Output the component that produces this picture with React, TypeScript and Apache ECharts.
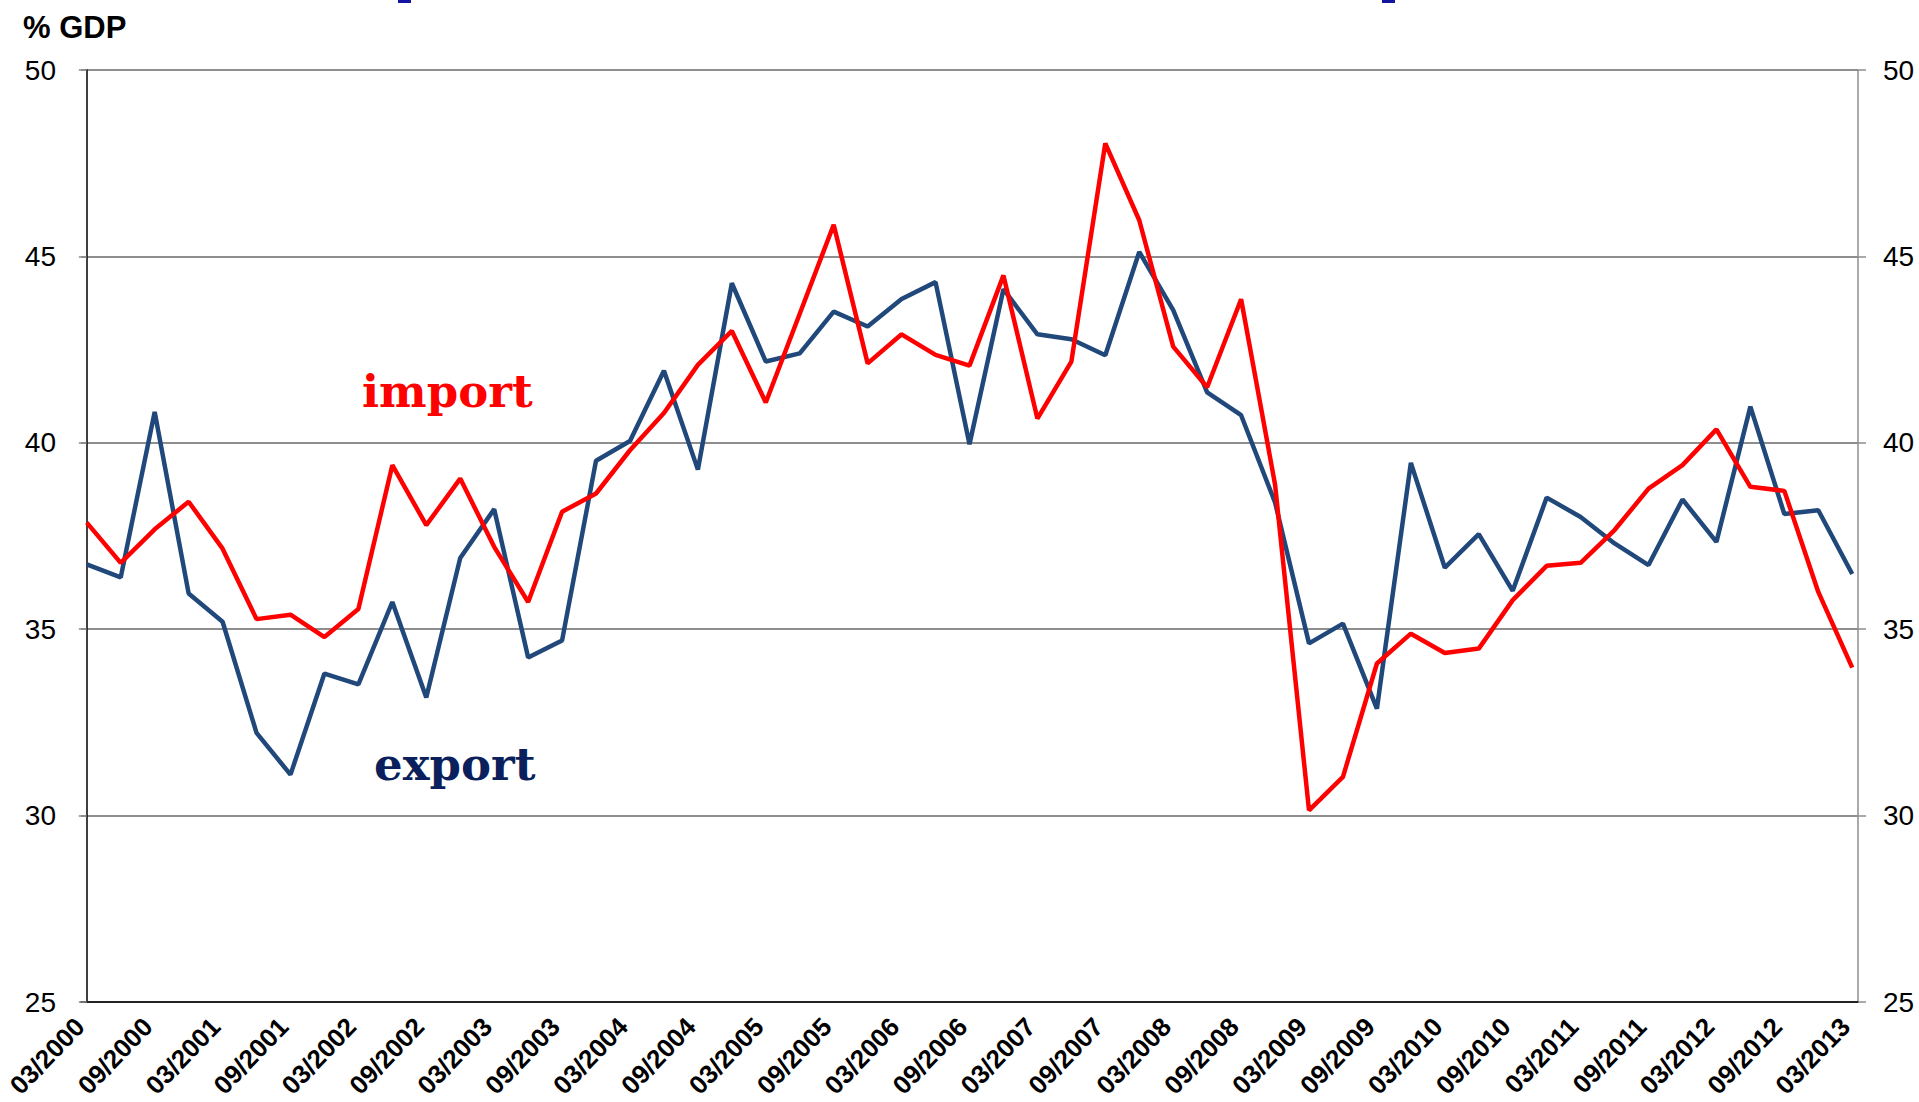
import React, { useEffect, useRef } from "react";
import * as echarts from "echarts";

const tickLabels = [
  "03/2000", "09/2000", "03/2001", "09/2001", "03/2002", "09/2002", "03/2003", "09/2003",
  "03/2004", "09/2004", "03/2005", "09/2005", "03/2006", "09/2006", "03/2007", "09/2007",
  "03/2008", "09/2008", "03/2009", "09/2009", "03/2010", "09/2010", "03/2011", "09/2011",
  "03/2012", "09/2012", "03/2013",
];

// quarterly values, 03/2000 .. 03/2013 (53 quarters)
const exportValues = [
  36.74, 36.39, 40.83, 35.96, 35.2, 32.22, 31.1, 33.81, 33.52, 35.73,
  33.17, 36.91, 38.22, 34.24, 34.7, 39.52, 40.05, 41.93, 39.28, 44.28,
  42.18, 42.4, 43.52, 43.12, 43.86, 44.31, 39.96, 44.12, 42.91, 42.78,
  42.35, 45.12, 43.56, 41.35, 40.74, 38.4, 34.62, 35.15, 32.87, 39.46,
  36.65, 37.55, 36.03, 38.53, 38.01, 37.3, 36.72, 38.48, 37.34, 40.97,
  38.09, 38.19, 36.48,
];

const importValues = [
  37.86, 36.78, 37.68, 38.42, 37.16, 35.27, 35.39, 34.79, 35.54, 39.4,
  37.79, 39.04, 37.21, 35.73, 38.15, 38.64, 39.8, 40.8, 42.09, 43.0,
  41.08, 43.46, 45.85, 42.13, 42.91, 42.36, 42.07, 44.49, 40.65, 42.18,
  48.03, 45.97, 42.58, 41.49, 43.85, 38.88, 30.14, 31.04, 34.08, 34.88,
  34.36, 34.48, 35.78, 36.7, 36.78, 37.66, 38.77, 39.4, 40.36, 38.82,
  38.71, 36.0, 33.97,
];

const yTicks = [25, 30, 35, 40, 45, 50];

export default function App() {
  const ref = useRef<HTMLDivElement>(null);

  useEffect(() => {
    if (!ref.current) return;
    const chart = echarts.init(ref.current, undefined, { renderer: "svg" });
    const sans = "'Liberation Sans', Arial, sans-serif";
    const serif = "'DejaVu Serif', 'Liberation Serif', serif";
    const tickPositions = tickLabels.map((_, k) => k * 2);

    const yAxisBase = {
      type: "value",
      min: yTicks[0],
      max: yTicks[yTicks.length - 1],
      interval: 5,
      axisTick: { show: true, length: 8, lineStyle: { color: "#8e8e8e", width: 1.5 } },
      axisLabel: { fontSize: 28, color: "#000", fontFamily: sans, margin: 25 },
    };

    chart.setOption({
      animation: false,
      backgroundColor: "#fff",
      grid: { left: 81, right: 61, top: 70, bottom: 100 },
      xAxis: {
        type: "value",
        min: -0.17,
        max: exportValues.length - 1 + 0.17,
        axisLine: { show: true, onZero: false, lineStyle: { color: "#222", width: 2 } },
        axisTick: { show: false },
        splitLine: { show: false },
        axisLabel: {
          customValues: tickPositions,
          formatter: (v: number) => tickLabels[Math.round(v / 2)] ?? "",
          rotate: 46,
          fontSize: 26,
          fontWeight: "bold",
          fontFamily: sans,
          color: "#000",
          margin: 13,
          padding: [0, 10, 0, 0],
          hideOverlap: false,
        },
      },
      yAxis: [
        {
          ...yAxisBase,
          position: "left",
          axisLine: { show: true, lineStyle: { color: "#000", width: 1.5 } },
          splitLine: { show: true, lineStyle: { color: "#8e8e8e", width: 2 } },
        },
        {
          ...yAxisBase,
          position: "right",
          axisLine: { show: true, lineStyle: { color: "#8e8e8e", width: 1.5 } },
          splitLine: { show: false },
        },
      ],
      series: [
        {
          name: "export",
          type: "line",
          data: exportValues.map((v, i) => [i, v]),
          showSymbol: false,
          symbol: "none",
          lineStyle: { color: "#21487a", width: 4.5 },
          z: 2,
        },
        {
          name: "import",
          type: "line",
          data: importValues.map((v, i) => [i, v]),
          showSymbol: false,
          symbol: "none",
          lineStyle: { color: "#ff0000", width: 4.5 },
          z: 3,
        },
      ],
      graphic: [
        {
          type: "text",
          left: 23,
          top: 12,
          style: { text: "% GDP", font: `bold 31px ${sans}`, fill: "#000" },
        },
        {
          type: "text",
          left: 362,
          top: 369,
          style: { text: "import", font: `bold 45px ${serif}`, fill: "#ff0000" },
        },
        {
          type: "text",
          left: 374,
          top: 742,
          style: { text: "export", font: `bold 45px ${serif}`, fill: "#0a1f5c" },
        },
        { type: "rect", shape: { x: 398, y: 0, width: 13, height: 3 }, style: { fill: "#1414a0" } },
        { type: "rect", shape: { x: 1382, y: 0, width: 13, height: 3 }, style: { fill: "#1414a0" } },
      ],
    });

    return () => chart.dispose();
  }, []);

  return (
    <div
      ref={ref}
      style={{ position: "absolute", left: 0, top: 0, width: 1919, height: 1102 }}
    />
  );
}
